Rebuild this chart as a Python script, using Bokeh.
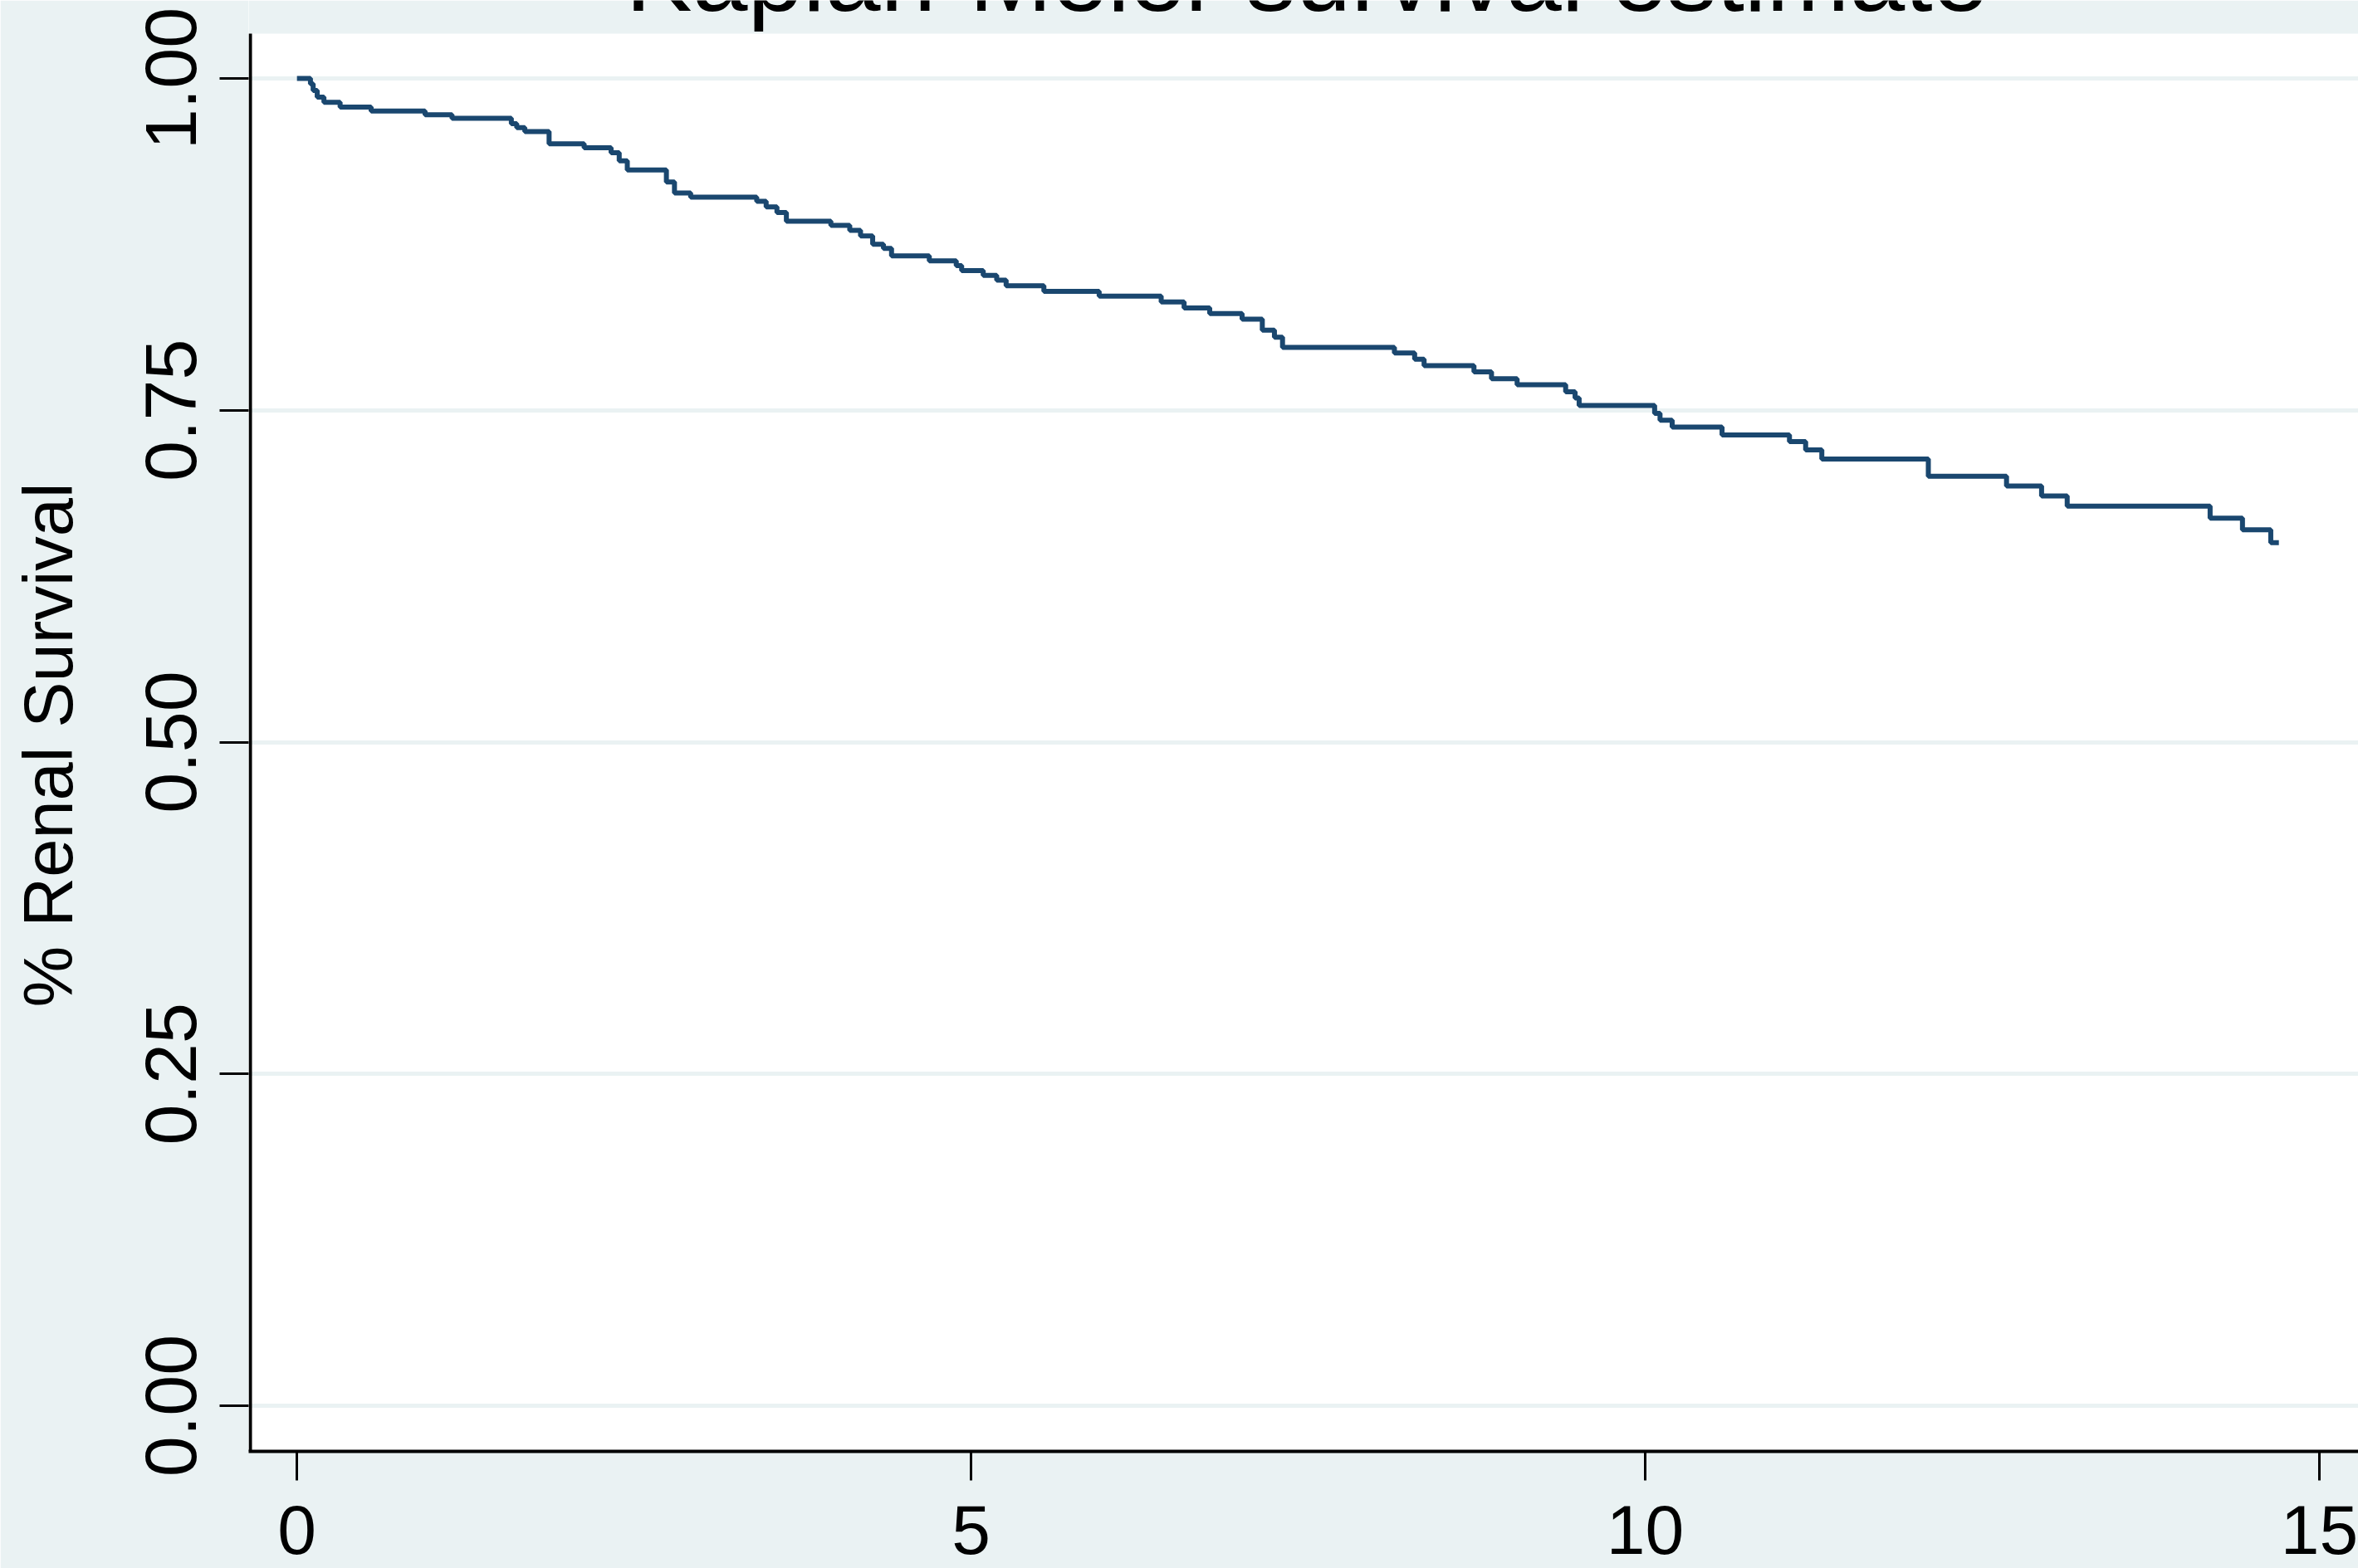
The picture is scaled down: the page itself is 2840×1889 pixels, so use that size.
from bokeh.plotting import figure
from bokeh.models import FixedTicker, Range1d, Label, BoxAnnotation
from bokeh.embed import file_html
from bokeh.resources import INLINE

# ---- data ----
time_years = [0.00, 0.10, 0.12, 0.15, 0.20, 0.32, 0.55, 0.95, 1.15,
              1.59, 1.63, 1.69, 1.87, 2.13, 2.33, 2.39, 2.45, 2.74, 2.80, 2.92,
              3.41, 3.48, 3.56, 3.63, 3.96, 4.10, 4.18, 4.27, 4.35, 4.41, 4.69, 4.89,
              4.93, 5.09, 5.19, 5.26, 5.54, 5.95, 6.41, 6.58, 6.77, 7.01, 7.16, 7.25,
              7.31, 8.14, 8.29, 8.36, 8.73, 8.86, 9.05, 9.41, 9.48, 9.51, 10.07, 10.11,
              10.20, 10.57, 11.07, 11.19, 11.31, 12.10, 12.68, 12.94, 13.13, 14.19, 14.43,
              14.64, 14.70]
survival = [1.000, 0.996, 0.991, 0.986, 0.982, 0.9785, 0.9755, 0.9726, 0.970,
            0.966, 0.963, 0.960, 0.9507, 0.9478, 0.944, 0.938, 0.931, 0.922, 0.9137, 0.9106,
            0.9075, 0.9033, 0.899, 0.8924, 0.8893, 0.8856, 0.8814, 0.8751, 0.872, 0.8663, 0.8626, 0.859,
            0.8553, 0.8517, 0.848, 0.8438, 0.8396, 0.836, 0.8317, 0.8271, 0.8229, 0.8187, 0.8104, 0.8051,
            0.7974, 0.7932, 0.7884, 0.7836, 0.779, 0.7738, 0.7692, 0.764, 0.7592, 0.7536, 0.7477, 0.7425,
            0.7373, 0.7314, 0.7264, 0.7201, 0.7132, 0.7003, 0.693, 0.6855, 0.6777, 0.6687, 0.660,
            0.6502, 0.6502]
x_ticks = [0, 5, 10, 15]
y_ticks = [0.0, 0.25, 0.5, 0.75, 1.0]
y_tick_labels = ["0.00", "0.25", "0.50", "0.75", "1.00"]
title_text = "Kaplan-Meier survival estimate"
y_title = "% Renal Survival"

FONT = "Liberation Sans"
BG = "#EAF2F3"
NAVY = "#1A476F"

# plot region limits (data units)
X0, X1 = -0.3583, 15.29
Y0, Y_REGION_TOP, Y1 = -0.0344, 1.0338, 1.0588
X_AXIS_POS = -0.346

W, H = 2840, 1889
p = figure(width=W, height=H, output_backend="svg", toolbar_location=None,
           x_range=Range1d(X0, X1), y_range=Range1d(Y0, Y1),
           min_border_left=299, min_border_top=0, min_border_bottom=141,
           min_border_right=0)
p.border_fill_color = BG
p.background_fill_color = "white"
p.outline_line_color = None

# graph-region strip above the plot region
p.add_layout(BoxAnnotation(bottom=Y_REGION_TOP, fill_color=BG, fill_alpha=1.0,
                           line_color=None, level="underlay"))

p.xgrid.grid_line_color = None
p.ygrid.ticker = FixedTicker(ticks=y_ticks)
p.ygrid.grid_line_color = BG
p.ygrid.grid_line_width = 5

p.step(x=time_years, y=survival, mode="after", line_color=NAVY, line_width=6)

# y axis line limited to the plot region
p.segment(x0=[X_AXIS_POS], y0=[Y0], x1=[X_AXIS_POS], y1=[Y_REGION_TOP],
          line_color="black", line_width=4)

# axes
for ax in (p.xaxis[0], p.yaxis[0]):
    ax.axis_line_color = "black"
    ax.axis_line_width = 4
    ax.major_tick_line_color = "black"
    ax.major_tick_line_width = 3
    ax.major_tick_out = 35
    ax.major_tick_in = 0
    ax.minor_tick_out = 0
    ax.minor_tick_in = 0
    ax.major_label_text_font = FONT
    ax.major_label_text_color = "black"
p.yaxis.axis_line_color = None

p.xaxis.ticker = FixedTicker(ticks=x_ticks)
p.xaxis.major_label_text_font_size = "84px"
p.xaxis.major_label_standoff = 30
p.yaxis.ticker = FixedTicker(ticks=y_ticks)
p.yaxis.major_label_overrides = {t: l for t, l in zip(y_ticks, y_tick_labels)}
p.yaxis.major_label_orientation = "parallel"
p.yaxis.major_label_text_font_size = "88px"
p.yaxis.major_label_standoff = 28
# two trailing no-break spaces centre the visible title on the plot region
p.yaxis.axis_label = y_title + "\u00a0\u00a0"
p.yaxis.axis_label_text_font = FONT
p.yaxis.axis_label_text_font_size = "83px"
p.yaxis.axis_label_text_font_style = "normal"
p.yaxis.axis_label_text_color = "black"
p.yaxis.axis_label_standoff = 69

# title, mostly cut off at the top edge as in the reference
p.add_layout(Label(x=7.49, y=1.0775, x_units="data", y_units="data",
                   text=title_text, text_align="center", text_baseline="alphabetic",
                   text_font=FONT, text_font_size="120px", text_color="black"))

open("out.html", "w").write(file_html(p, INLINE))
